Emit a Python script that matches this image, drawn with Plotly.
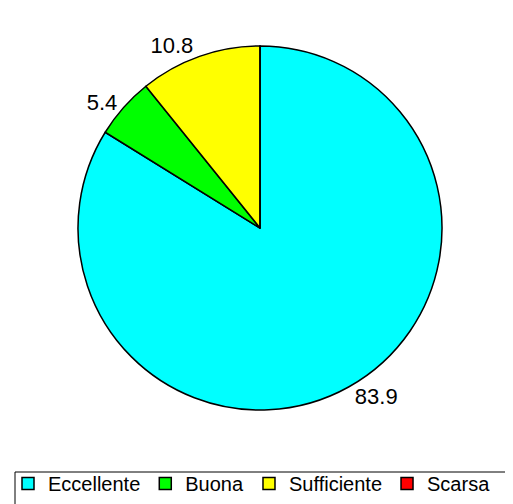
import plotly.graph_objects as go

categories = ["Eccellente", "Buona", "Sufficiente", "Scarsa"]
values = [83.9, 5.4, 10.8, 0.0]
colors = ["#00FFFF", "#00FF00", "#FFFF00", "#FF0000"]

W, H = 513, 504
FONT = "Liberation Sans, Arial, sans-serif"

labels_txt = [f"{v}" if v > 0 else "" for v in values]

fig = go.Figure(go.Pie(
    labels=categories,
    values=values,
    text=labels_txt,
    sort=False,
    direction="clockwise",
    rotation=0,
    marker=dict(colors=colors, line=dict(color="black", width=1.5)),
    textinfo="text",
    textposition="outside",
    textfont=dict(family=FONT, size=22, color="black"),
    outsidetextfont=dict(family=FONT, size=22, color="black"),
    domain=dict(x=[70 / W, 434 / W], y=[(H - 425) / H, (H - 15) / H]),
    hoverinfo="label+value",
))

fig.update_layout(
    width=W, height=H,
    margin=dict(l=0, r=0, t=0, b=0, autoexpand=False),
    paper_bgcolor="white",
    plot_bgcolor="white",
    font=dict(family=FONT, size=20, color="black"),
    showlegend=True,
    legend=dict(
        orientation="h",
        x=0.0, xanchor="left",
        y=(H - 456) / H, yanchor="top",
        font=dict(family=FONT, size=20),
        bgcolor="rgba(0,0,0,0)",
        itemwidth=30,
        traceorder="normal",
    ),
    shapes=[dict(
        type="rect", xref="paper", yref="paper",
        x0=7 / W, x1=1.02, y0=-0.02, y1=(H - 464) / H,
        line=dict(color="black", width=1),
    )],
)

fig.write_html("out.html")
